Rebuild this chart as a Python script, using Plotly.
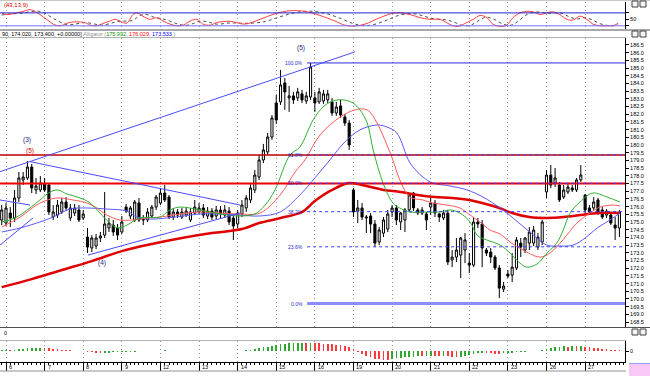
import plotly.graph_objects as go

W, H = 650, 376
PLOT_R = 625

def px_x(x):
    return x / W

def px_y(y):
    return 1 - y / H

# ---------------- data ----------------
day_labels = ["6", "7", "8", "9", "12", "13", "14", "15", "16", "19", "20", "21", "22", "23", "26", "27"]
day_first_bar = [1, 10, 19, 28, 37, 46, 55, 64, 73, 82, 91, 100, 109, 118, 127, 136]

opens = [175.13, 174.93, 175.58, 175.26, 176.56, 177.73, 177.86, 178.57, 177.08, 177.08, 177.47,
         177.40, 175.32, 175.45, 175.65, 176.30, 175.26, 175.58, 175.78, 175.26,
         174.02, 173.31, 173.44, 173.96, 174.15, 174.61, 174.80, 174.61, 174.35,
         175.97, 175.39, 175.13, 176.23, 175.13, 175.13, 175.39, 175.97, 176.23,
         176.88, 176.62, 175.32, 175.65, 175.32, 175.45, 175.13, 175.58, 175.65,
         175.91, 175.39, 175.71, 175.39, 175.78, 175.45, 175.71, 175.26, 174.87,
         175.52, 175.91, 176.43, 177.08, 177.92, 179.03, 179.55, 180.52, 182.73,
         182.80, 184.03, 183.06, 183.19, 183.06, 183.32, 182.86, 183.12, 183.06,
         182.80, 182.86, 182.93, 182.80, 182.08, 182.54, 181.82, 181.43,
         177.08, 175.71, 175.91, 175.26, 175.39, 174.87, 173.70, 174.28, 174.54,
         175.65, 175.91, 175.00, 175.13, 175.78, 176.88, 175.78, 175.58, 175.52,
         175.97, 176.23, 175.52, 175.26, 175.58, 172.53, 172.72, 172.85, 173.18,
         172.33, 172.20, 175.00, 174.87, 173.18, 173.05, 172.72, 172.01, 170.64,
         171.62, 171.55, 172.01, 173.63, 173.18, 173.63, 173.63, 173.37, 173.70,
         176.95, 178.05, 177.53, 177.40, 176.62, 176.95, 177.21, 177.08, 177.73,
         176.75, 175.91, 175.91, 176.43, 175.78, 175.45, 175.45, 174.80, 174.61]
highs = [176.10, 176.23, 175.97, 177.08, 178.25, 178.25, 178.96, 178.77, 177.86, 177.99, 177.86,
         177.53, 176.10, 176.43, 176.56, 176.62, 176.17, 176.17, 176.10, 175.78,
         174.61, 174.15, 174.22, 174.35, 176.95, 175.26, 175.13, 174.87, 175.39,
         176.17, 176.04, 176.43, 176.56, 175.45, 175.91, 176.10, 176.75, 177.21,
         177.40, 176.75, 175.91, 175.84, 175.91, 175.97, 175.91, 176.43, 176.23,
         176.17, 175.97, 175.91, 176.04, 176.04, 176.10, 175.97, 175.52, 175.78,
         176.43, 176.75, 177.47, 178.38, 179.35, 180.07, 180.78, 181.95, 183.25,
         184.88, 184.36, 183.84, 183.45, 183.71, 183.58, 183.45, 185.33, 183.45,
         183.71, 183.58, 183.58, 183.06, 182.80, 182.93, 182.02, 181.63,
         177.21, 176.43, 176.23, 175.45, 175.58, 175.13, 174.67, 175.32, 175.78,
         176.10, 176.10, 175.65, 175.91, 176.88, 176.95, 175.91, 175.97, 175.65,
         176.62, 176.43, 175.58, 175.78, 175.78, 173.18, 173.96, 174.02, 174.28,
         172.98, 175.32, 175.26, 175.13, 173.31, 173.31, 172.85, 172.20, 171.10,
         171.88, 172.98, 174.02, 173.96, 174.02, 174.67, 174.74, 174.28, 175.13,
         178.38, 178.70, 178.51, 177.60, 177.40, 177.47, 177.40, 177.86, 178.70,
         176.82, 176.10, 176.62, 176.56, 175.97, 175.84, 175.65, 175.32, 175.78]
lows = [174.80, 174.74, 174.67, 175.00, 176.30, 177.40, 177.73, 176.88, 176.82, 176.95, 176.95,
        175.45, 175.13, 175.26, 175.52, 175.71, 175.06, 175.39, 175.00, 175.13,
        172.98, 173.05, 173.24, 173.70, 173.96, 174.35, 174.09, 173.83, 174.22,
        175.58, 175.19, 175.00, 175.00, 174.80, 175.00, 175.26, 175.78, 176.10,
        176.30, 175.19, 175.13, 175.26, 175.19, 175.32, 175.00, 175.45, 175.52,
        175.26, 175.19, 175.13, 175.19, 175.26, 175.26, 174.80, 173.83, 174.61,
        175.32, 175.65, 176.23, 176.88, 177.73, 178.83, 179.35, 180.33, 181.37,
        182.60, 182.28, 182.15, 182.67, 182.86, 182.73, 182.67, 182.93, 182.15,
        182.67, 182.67, 182.73, 181.89, 181.89, 181.76, 181.24, 179.68,
        175.32, 174.93, 175.13, 174.28, 174.28, 173.37, 173.50, 174.02, 174.35,
        175.32, 174.80, 174.48, 174.35, 175.65, 175.71, 175.45, 175.45, 174.48,
        175.45, 175.32, 175.00, 175.13, 172.20, 172.07, 172.40, 171.36, 172.33,
        171.68, 172.07, 174.61, 172.07, 172.79, 172.33, 171.88, 170.06, 170.45,
        171.36, 171.10, 171.88, 172.72, 172.98, 173.18, 173.44, 173.18, 173.50,
        176.56, 177.21, 177.27, 176.30, 176.49, 176.82, 176.95, 176.95, 177.60,
        175.58, 175.52, 175.78, 175.45, 175.19, 175.26, 174.80, 173.83, 174.02]
closes = [175.78, 175.91, 175.26, 176.56, 177.86, 177.92, 178.57, 177.21, 177.34, 177.53, 177.08,
          175.65, 175.65, 176.10, 176.30, 175.91, 175.91, 175.91, 175.13, 175.52,
          173.37, 173.96, 173.96, 174.09, 174.87, 174.93, 174.35, 174.15, 175.00,
          175.71, 175.91, 176.30, 175.13, 175.19, 175.65, 175.97, 176.62, 176.88,
          176.43, 175.32, 175.65, 175.45, 175.65, 175.71, 175.65, 175.97, 175.91,
          175.45, 175.71, 175.32, 175.78, 175.52, 175.78, 175.00, 174.74, 175.58,
          176.10, 176.56, 177.21, 178.05, 179.03, 179.68, 180.52, 181.76, 181.63,
          183.90, 183.45, 183.19, 182.93, 183.45, 182.93, 183.19, 185.07, 182.73,
          183.45, 183.32, 183.32, 182.08, 182.47, 181.95, 181.43, 180.00,
          175.65, 175.91, 175.32, 175.32, 174.87, 173.63, 174.48, 175.13, 175.52,
          175.91, 175.13, 175.58, 175.78, 176.75, 175.91, 175.58, 175.78, 175.13,
          176.23, 175.58, 175.32, 175.58, 172.40, 172.72, 173.18, 173.96, 173.83,
          172.20, 175.00, 174.87, 173.31, 172.98, 172.72, 172.01, 170.71, 170.84,
          171.49, 172.07, 173.83, 173.37, 173.96, 174.35, 174.48, 174.02, 175.00,
          178.05, 177.40, 177.86, 176.43, 177.08, 177.27, 177.08, 177.73, 178.05,
          175.78, 175.65, 176.30, 175.58, 175.32, 175.71, 174.93, 174.61, 175.65]

# long moving average (thick red)
ma_x = [0, 7, 14, 21, 28, 35, 42, 49, 56, 60, 65, 70, 73, 77, 81, 85, 89, 93, 97, 101, 105, 109,
        112, 116, 119, 123, 127, 131, 135, 139, 144]
ma_y = [170.77, 171.29, 171.88, 172.46, 173.11, 173.57, 173.96, 174.28, 174.54, 174.93, 175.26,
        175.65, 176.36, 177.08, 177.53, 177.34, 177.08, 176.95, 176.75, 176.62, 176.56, 176.43,
        176.23, 175.91, 175.58, 175.32, 175.26, 175.32, 175.45, 175.58, 175.58]

# Alligator: jaw (blue), teeth (red), lips (green)
jaw_x = [0, 4.3, 8.9, 12.0, 15.9, 19.9, 24.5, 29.2, 31.5, 34.6, 38.5, 42.3, 46.2, 50.9, 55.5, 60.2,
         64.9, 69.5, 73.0, 76.5, 80.0, 83.5, 87.5, 89.8, 92.1, 95.2, 98.2, 100.5, 104.5, 108.5,
         112.2, 116.2, 119.2, 123.1, 127.1, 130.1, 133.2, 136.0, 138.8, 141.8, 144.1]
jaw_y = [174.35, 174.61, 175.00, 175.32, 175.84, 175.91, 175.84, 175.71, 175.32, 175.19, 175.26,
         175.39, 175.52, 175.52, 175.45, 175.39, 175.65, 176.75, 177.86, 179.03, 180.20, 180.98,
         181.30, 181.17, 180.78, 178.83, 177.92, 177.53, 177.34, 177.08, 176.62, 175.91, 175.26,
         174.35, 173.50, 173.44, 173.50, 173.96, 174.61, 175.13, 175.58]
teeth_x = [0, 4.3, 8.9, 12.9, 16.6, 19.9, 22.2, 24.5, 27.6, 30.6, 33.9, 36.9, 39.9, 43.2, 46.2,
           50.9, 55.5, 60.2, 64.9, 68.4, 70.7, 74.2, 78.9, 82.4, 85.2, 87.5, 89.8, 91.2, 92.8,
           95.2, 98.2, 100.5, 103.8, 106.8, 109.2, 111.5, 113.8, 116.2, 118.5, 121.5, 125.5,
           127.8, 130.8, 134.1, 137.1, 139.5, 142.5, 144.1]
teeth_y = [174.67, 175.32, 176.23, 176.56, 176.43, 176.23, 175.91, 175.45, 175.13, 175.13, 175.26,
           175.32, 175.45, 175.58, 175.65, 175.58, 175.52, 175.58, 176.75, 178.25, 179.03, 180.65,
           181.82, 182.28, 182.28, 181.43, 180.00, 179.03, 177.73, 176.62, 176.43, 176.23, 176.10,
           175.91, 175.45, 175.00, 174.48, 174.22, 173.70, 173.18, 172.72, 172.98, 173.83, 174.93,
           175.58, 175.97, 176.10, 176.04]
lips_x = [0, 3.1, 6.6, 8.9, 11.3, 13.1, 15.2, 18.3, 20.6, 22.9, 25.2, 27.1, 29.2, 32.2, 36.9, 39.2,
          41.6, 46.2, 50.9, 55.5, 59.0, 61.4, 63.7, 67.2, 69.5, 72.6, 74.9, 77.2, 79.6, 81.9, 83.5,
          85.2, 86.6, 88.9, 91.2, 92.8, 95.2, 99.1, 102.2, 104.5, 106.8, 109.2, 110.8, 113.1,
          116.2, 118.5, 120.8, 122.4, 124.8, 127.1, 129.4, 130.9, 132.5, 134.8, 137.8, 141.1, 144.1]
lips_y = [175.00, 175.26, 175.91, 176.43, 176.95, 177.08, 176.82, 176.56, 176.23, 175.58, 174.93,
          174.61, 174.80, 175.26, 175.32, 175.78, 175.97, 175.78, 175.52, 175.39, 175.52, 176.10,
          177.08, 179.35, 179.87, 181.63, 182.47, 182.86, 182.93, 182.73, 182.28, 181.43, 179.68,
          177.53, 176.23, 175.91, 175.65, 175.65, 175.65, 175.78, 175.58, 175.00, 174.15, 173.83,
          173.50, 172.98, 172.33, 172.07, 172.27, 172.98, 173.63, 174.48, 175.58, 176.30, 176.88,
          176.62, 176.30]

# top oscillator (43,13,9)
osc_x = [0, 1.2, 3.5, 5.0, 6.6, 7.8, 8.9, 10.5, 12.0, 13.6, 15.2, 16.6, 18.3, 19.8, 20.6, 22.1,
         23.6, 25.2, 26.4, 27.6, 29.1, 30.6, 31.5, 32.9, 34.6, 36.1, 37.6, 39.2, 40.8, 42.3, 43.9,
         45.5, 46.9, 48.6, 50.1, 53.2, 56.7, 60.2, 63.7, 67.2, 70.7, 74.2, 77.7, 80.0, 82.4, 84.7,
         88.2, 91.7, 95.2, 97.5, 99.8, 102.2, 103.7, 105.2, 106.4, 108.4, 109.9, 111.5, 113.1,
         114.5, 116.2, 117.7, 119.2, 120.8, 122.4, 123.9, 125.5, 127.0, 128.5, 130.1, 131.7,
         133.2, 134.8, 136.4, 137.8, 139.5, 141.0, 142.5, 143.7]
osc_y = [80, 72, 80, 87, 95, 87, 72, 50, 28, 20, 32, 38, 38, 32, 23, 20, 31, 42, 50, 42,
         32, 72, 80, 65, 50, 58, 42, 28, 20, 23, 42, 50, 28, 23, 35, 41, 28, 50, 76, 90,
         87, 68, 42, 23, 19, 28, 58, 80, 72, 58, 50, 50, 35, 20, 17, 35, 50, 68, 58, 28,
         17, 23, 58, 80, 87, 85, 72, 80, 85, 72, 50, 47, 65, 50, 28, 20, 20, 20, 32]
sig_x = [0, 1.9, 4.3, 6.6, 8.5, 10.1, 11.7, 13.6, 15.2, 17.1, 19.4, 21.3, 22.9, 24.8, 26.9, 28.7,
         30.6, 32.2, 33.9, 35.7, 37.4, 39.2, 41.1, 43.0, 44.8, 46.2, 48.1, 50.0, 53.2, 57.9, 61.4,
         64.9, 68.6, 71.9, 75.4, 78.9, 81.7, 84.0, 86.3, 89.6, 92.8, 96.1, 98.7, 101.0, 103.6,
         105.7, 107.3, 109.2, 111.0, 112.9, 114.8, 116.6, 118.5, 120.3, 122.2, 123.8, 125.5,
         127.1, 129.0, 130.6, 132.5, 134.3, 136.0, 137.6, 139.5, 141.1, 142.7, 143.7]
sig_y = [70, 75, 78, 85, 88, 78, 58, 38, 25, 28, 35, 30, 23, 28, 40, 42, 45, 68, 72, 58,
         53, 42, 28, 22, 32, 42, 38, 28, 33, 32, 40, 62, 82, 88, 78, 55, 32, 22, 24, 45,
         70, 76, 63, 52, 48, 35, 22, 22, 42, 60, 50, 30, 22, 40, 70, 82, 84, 78, 80, 78,
         60, 52, 58, 48, 30, 22, 22, 25]
osc_levels = [80, 20]

# bottom histogram
hist_vals = [0.25, 0.30, 0.28, 0.35, 0.45, 0.55, 0.65, 0.70, 0.75, 0.78, 0.72,
             0.65, 0.55, 0.45, 0.35, 0.28, 0.20, 0.12, 0.05, 0.00,
             -0.15, -0.30, -0.40, -0.45, -0.40, -0.38, -0.36, -0.35, -0.30,
             -0.25, -0.20, -0.15, -0.10, -0.05, 0.00, 0.05, 0.10, 0.12,
             0.15, 0.10, 0.08, 0.07, 0.05, 0.04, 0.05, 0.07, 0.06,
             0.04, 0.03, 0.02, 0.00, -0.02, -0.03, -0.05, -0.08, -0.04,
             0.10, 0.20, 0.35, 0.50, 0.70, 0.90, 1.10, 1.30, 1.50,
             1.65, 1.80, 1.90, 1.95, 2.00, 2.05, 2.00, 2.02, 1.95,
             1.90, 1.85, 1.80, 1.70, 1.60, 1.40, 1.20, 1.00,
             0.60, -0.30, -0.80, -1.20, -1.60, -1.90, -2.10, -2.20, -2.25,
             -2.00, -1.80, -1.70, -1.60, -1.50, -1.40, -1.30, -1.35, -1.30,
             -1.20, -1.25, -1.30, -1.25, -1.35, -1.40, -1.45, -1.40, -1.30,
             -1.10, -0.80, -0.60, -0.50, -0.55, -0.60, -0.65, -0.75, -0.60,
             -0.50, -0.45, -0.35, -0.25, -0.15, -0.05, 0.05, 0.10, 0.20,
             0.50, 0.80, 1.00, 1.10, 1.15, 1.10, 1.20, 1.15, 1.20,
             1.00, 0.90, 0.80, 0.70, 0.60, 0.45, 0.35, 0.25, 0.20]

# Fibonacci retracement
fib_high = 185.33
fib_low = 169.70
fib_start = 71.2
fib_ratios = [1.0, 0.618, 0.5, 0.382, 0.236, 0.0]
fib_labels = ["100.0%", "61.8%", "50.0%", "38.2%", "23.6%", "0.0%"]

# horizontal resistance lines (red)
red_levels = [179.35, 177.50]

# trend lines (bar, price) -> (bar, price)
trendlines = [(-0.4, 178.27, 82.35, 186.05),
              (6.6, 178.92, 55.6, 176.10),
              (20.1, 172.85, 55.6, 175.58),
              (-0.4, 176.43, 6.6, 176.10),
              (-0.4, 173.50, 7.3, 175.26)]

# wave labels
wave_labels = [("(3)", 5.9, 180.33, "#1a1a80"),
               ("(5)", 6.6, 179.60, "#e00000"),
               ("(4)", 23.4, 172.33, "#1a1a80"),
               ("(5)", 69.8, 186.31, "#1a1a80")]

# ---------------- figure ----------------
bars = list(range(len(closes)))
XR = [-0.4, 145.3]
FONT = "Liberation Sans, Arial, sans-serif"

fig = go.Figure()

fig.add_trace(go.Candlestick(
    x=bars, open=opens, high=highs, low=lows, close=closes,
    increasing=dict(line=dict(color="#000000", width=1), fillcolor="#ffffff"),
    decreasing=dict(line=dict(color="#000000", width=1), fillcolor="#000000"),
    whiskerwidth=0, hoverinfo="skip", showlegend=False, xaxis="x", yaxis="y"))

fig.add_trace(go.Scatter(x=ma_x, y=ma_y, mode="lines", line=dict(color="#e00000", width=2.5, shape="spline"),
                         hoverinfo="skip", showlegend=False, xaxis="x", yaxis="y"))
fig.add_trace(go.Scatter(x=jaw_x, y=jaw_y, mode="lines", line=dict(color="#5a5aff", width=1, shape="spline"),
                         hoverinfo="skip", showlegend=False, xaxis="x", yaxis="y"))
fig.add_trace(go.Scatter(x=teeth_x, y=teeth_y, mode="lines", line=dict(color="#ff5a5a", width=1, shape="spline"),
                         hoverinfo="skip", showlegend=False, xaxis="x", yaxis="y"))
fig.add_trace(go.Scatter(x=lips_x, y=lips_y, mode="lines", line=dict(color="#30b030", width=1, shape="spline"),
                         hoverinfo="skip", showlegend=False, xaxis="x", yaxis="y"))

# oscillator
fig.add_trace(go.Scatter(x=sig_x, y=sig_y, mode="lines", line=dict(color="#505050", width=1, dash="dot", shape="spline"),
                         hoverinfo="skip", showlegend=False, xaxis="x2", yaxis="y2"))
fig.add_trace(go.Scatter(x=osc_x, y=osc_y, mode="lines", line=dict(color="#ff4040", width=1, shape="spline"),
                         hoverinfo="skip", showlegend=False, xaxis="x2", yaxis="y2"))

# histogram
hist_colors = ["#2fa82f"]
for i in range(1, len(hist_vals)):
    hist_colors.append("#2fa82f" if hist_vals[i] > hist_vals[i - 1] else "#ff3a3a")
fig.add_trace(go.Bar(x=bars, y=hist_vals, marker=dict(color=hist_colors, line=dict(width=0)), width=0.4,
                     hoverinfo="skip", showlegend=False, xaxis="x3", yaxis="y3"))

shapes = []
# red horizontal levels
shapes.append(dict(type="line", xref="x", yref="y", x0=XR[0], x1=XR[1], y0=red_levels[0], y1=red_levels[0],
                   line=dict(color="#c00000", width=1.5)))
shapes.append(dict(type="line", xref="x", yref="y", x0=XR[0], x1=XR[1], y0=red_levels[1], y1=red_levels[1],
                   line=dict(color="#ee0000", width=2)))
# fib lines
for r in fib_ratios:
    lvl = fib_low + (fib_high - fib_low) * r
    if r == 1.0:
        ln = dict(color="#2a2ae0", width=1)
    elif r == 0.0:
        ln = dict(color="#8c8cff", width=3)
    else:
        ln = dict(color="#3a3aff", width=1, dash="dot")
    shapes.append(dict(type="line", xref="x", yref="y", x0=fib_start, x1=XR[1], y0=lvl, y1=lvl, line=ln))
# trendlines
for (x0, y0, x1, y1) in trendlines:
    shapes.append(dict(type="line", xref="x", yref="y", x0=x0, y0=y0, x1=x1, y1=y1,
                       line=dict(color="#4a4aff", width=1)))
# oscillator levels
shapes.append(dict(type="line", xref="x2", yref="y2", x0=XR[0], x1=XR[1], y0=osc_levels[0], y1=osc_levels[0],
                   line=dict(color="#2020d0", width=1)))
shapes.append(dict(type="line", xref="x2", yref="y2", x0=XR[0], x1=XR[1], y0=osc_levels[1], y1=osc_levels[1],
                   line=dict(color="#7070ff", width=1)))
# panel separators
for (yy, col, xe) in [(0.5, "#c8c8c8", W), (30, "#505050", W), (37.5, "#b0b0b0", PLOT_R + 1),
                      (327.5, "#505050", W), (340.5, "#b0b0b0", PLOT_R + 1), (371, "#909090", PLOT_R + 1)]:
    shapes.append(dict(type="line", xref="paper", yref="paper", x0=0, x1=px_x(xe), y0=px_y(yy), y1=px_y(yy),
                       line=dict(color=col, width=1)))
# small window icons
for yy in (1, 31, 329):
    for xx in (632, 640):
        shapes.append(dict(type="rect", xref="paper", yref="paper", x0=px_x(xx), x1=px_x(xx + 6),
                           y0=px_y(yy + 6), y1=px_y(yy), line=dict(color="#404040", width=1), fillcolor="#f4f4f4"))
# pink marker bottom right
shapes.append(dict(type="rect", xref="paper", yref="paper", x0=px_x(629), x1=1, y0=0, y1=px_y(363),
                   line=dict(width=0), fillcolor="#f9c8f6"))
shapes.append(dict(type="line", xref="paper", yref="paper", x0=px_x(629), x1=1, y0=px_y(363.5), y1=px_y(363.5),
                   line=dict(color="#8aa0ff", width=1)))

annotations = []
annotations.append(dict(xref="paper", yref="paper", x=px_x(2), y=px_y(4.5), xanchor="left", yanchor="middle",
                        text="(43,13,9)", showarrow=False, font=dict(family=FONT, size=6, color="#e00000")))
header = ("90, 174.020, 173.400, +0.00000] <span style='color:#909090'>Alligator (</span>"
          "<span style='color:#009000'>175.992, </span><span style='color:#ff0000'>176.029, </span>"
          "<span style='color:#0000ff'>173.533</span><span style='color:#909090'> )</span>")
annotations.append(dict(xref="paper", yref="paper", x=0, y=px_y(33.8), xanchor="left", yanchor="middle",
                        text=header, showarrow=False, font=dict(family=FONT, size=5.5, color="#000000")))
annotations.append(dict(xref="paper", yref="paper", x=px_x(2), y=px_y(332.5), xanchor="left", yanchor="middle",
                        text="0", showarrow=False, font=dict(family=FONT, size=5.5, color="#000000")))
for (t, xb, yp, col) in wave_labels:
    annotations.append(dict(xref="x", yref="y", x=xb, y=yp, text=t, showarrow=False,
                            font=dict(family=FONT, size=6.5, color=col)))
for r, lab in zip(fib_ratios, fib_labels):
    lvl = fib_low + (fib_high - fib_low) * r
    annotations.append(dict(xref="x", yref="y", x=fib_start - 0.5, y=lvl, xanchor="right", yanchor="middle",
                            text=lab, showarrow=False, font=dict(family=FONT, size=5, color="#2a2ad0")))
for b, lab in zip(day_first_bar, day_labels):
    annotations.append(dict(xref="x3", yref="paper", x=b, y=px_y(367), xanchor="left", yanchor="middle",
                            xshift=1, text=lab, showarrow=False, font=dict(family=FONT, size=5.5, color="#000000")))

grid = dict(showgrid=True, gridcolor="#9a9a9a", griddash="1px,3px", gridwidth=1)
dom_x = [0, PLOT_R / W]

fig.update_layout(
    width=W, height=H, margin=dict(l=0, r=0, t=0, b=0, autoexpand=False),
    paper_bgcolor="white", plot_bgcolor="white", showlegend=False,
    font=dict(family=FONT, size=5.5, color="black"),
    shapes=shapes, annotations=annotations, bargap=0,
    xaxis=dict(domain=dom_x, range=XR, anchor="y", tickmode="array", tickvals=day_first_bar,
               showticklabels=False, ticks="", zeroline=False, rangeslider=dict(visible=False),
               fixedrange=True, **grid),
    yaxis=dict(domain=[px_y(327), px_y(38)], range=[168.18, 186.95], anchor="x", side="right",
               ticks="outside", ticklen=3, tickcolor="#000000", tick0=168.5, dtick=0.5, tickformat=".1f",
               showgrid=False, zeroline=False, showline=True, linecolor="#000000", linewidth=1,
               tickfont=dict(family=FONT, size=5.5), fixedrange=True),
    xaxis2=dict(domain=dom_x, range=XR, anchor="y2", tickmode="array", tickvals=day_first_bar,
                showticklabels=False, ticks="", zeroline=False, fixedrange=True, **grid),
    yaxis2=dict(domain=[px_y(29), px_y(2)], range=[5.2, 130.6], anchor="x2", side="right",
                tickmode="array", tickvals=[20, 50, 80], ticktext=["", "50", ""], ticks="outside", ticklen=3,
                tickcolor="#000000", showgrid=False, zeroline=False, showline=True, linecolor="#000000",
                tickfont=dict(family=FONT, size=5.5), fixedrange=True),
    xaxis3=dict(domain=dom_x, range=XR, anchor="y3", tickmode="array", tickvals=day_first_bar,
                showticklabels=False, ticks="outside", ticklen=8, tickcolor="#000000", showline=True,
                linecolor="#000000", linewidth=1, zeroline=False, fixedrange=True,
                minor=dict(tick0=0, dtick=1, ticks="outside", ticklen=2, tickcolor="#000000", showgrid=False),
                **grid),
    yaxis3=dict(domain=[px_y(362), px_y(341)], range=[-2.75, 2.5], anchor="x3", side="right",
                tickmode="array", tickvals=[0], ticktext=["0"], ticks="outside", ticklen=3,
                tickcolor="#000000", showgrid=False, zeroline=False, showline=True, linecolor="#000000",
                tickfont=dict(family=FONT, size=5.5), fixedrange=True),
)

fig.write_html("out.html", config={"displayModeBar": False, "staticPlot": True},
               post_script="document.body.style.margin='0';document.body.style.overflow='hidden';")
